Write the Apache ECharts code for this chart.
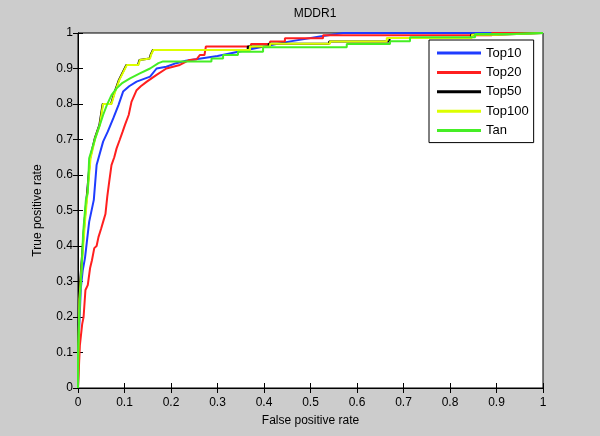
<!DOCTYPE html>
<html>
<head>
<meta charset="utf-8">
<script src="https://cdn.jsdelivr.net/npm/echarts@6/dist/echarts.min.js"></script>
<style>
html,body{margin:0;padding:0;background:#cccccc;}
#c{width:600px;height:436px;}
</style>
</head>
<body>
<div id="c"></div>
<script>
// Data: [false positive rate, true positive rate]
var seriesNames = ['Top10', 'Top20', 'Top50', 'Top100', 'Tan'];
var top10 = [[0,0],[0.002,0.15],[0.006,0.28],[0.01,0.33],[0.015,0.366],[0.024,0.468],[0.034,0.53],[0.040,0.628],[0.054,0.694],[0.064,0.722],[0.076,0.76],[0.087,0.797],[0.097,0.835],[0.11,0.85],[0.126,0.863],[0.155,0.877],[0.169,0.90],[0.19,0.905],[0.211,0.915],[0.232,0.922],[0.30,0.935],[0.363,0.952],[0.45,0.975],[0.52,0.99],[0.556,0.997],[0.57,1],[1,1]];
var top20 = [[0,0],[0.004,0.12],[0.009,0.18],[0.012,0.2],[0.016,0.276],[0.021,0.29],[0.026,0.338],[0.03,0.36],[0.035,0.394],[0.04,0.4],[0.044,0.425],[0.05,0.45],[0.054,0.468],[0.059,0.49],[0.063,0.54],[0.067,0.58],[0.072,0.628],[0.078,0.65],[0.083,0.675],[0.09,0.70],[0.096,0.722],[0.101,0.741],[0.109,0.769],[0.115,0.806],[0.126,0.839],[0.135,0.85],[0.148,0.863],[0.169,0.882],[0.19,0.90],[0.219,0.91],[0.24,0.924],[0.255,0.926],[0.262,0.938],[0.272,0.938],[0.275,0.962],[0.372,0.962],[0.372,0.969],[0.413,0.969],[0.413,0.976],[0.445,0.976],[0.445,0.985],[0.527,0.985],[0.527,0.994],[0.89,0.994],[0.89,1],[1,1]];
var top50 = [[0,0],[0.001,0.15],[0.002,0.25],[0.007,0.342],[0.014,0.468],[0.021,0.572],[0.026,0.647],[0.036,0.703],[0.046,0.741],[0.053,0.80],[0.071,0.80],[0.079,0.835],[0.088,0.868],[0.104,0.91],[0.129,0.91],[0.132,0.924],[0.154,0.928],[0.156,0.938],[0.161,0.952],[0.365,0.952],[0.365,0.962],[0.41,0.962],[0.41,0.97],[0.54,0.97],[0.54,0.976],[0.67,0.976],[0.67,0.986],[0.845,0.986],[0.845,0.995],[0.9,0.995],[0.9,1],[1,1]];
var top100 = [[0,0],[0.001,0.1],[0.003,0.25],[0.008,0.342],[0.015,0.468],[0.022,0.572],[0.027,0.647],[0.037,0.703],[0.047,0.741],[0.054,0.80],[0.072,0.80],[0.08,0.835],[0.089,0.868],[0.105,0.91],[0.13,0.91],[0.133,0.924],[0.155,0.928],[0.157,0.938],[0.162,0.952],[0.37,0.952],[0.37,0.962],[0.413,0.962],[0.413,0.97],[0.542,0.97],[0.542,0.976],[0.664,0.976],[0.664,0.986],[0.847,0.986],[0.847,0.995],[0.9,0.995],[0.9,1],[1,1]];
var tan = [[0,0],[0,0.10],[0.004,0.248],[0.008,0.342],[0.011,0.436],[0.013,0.468],[0.017,0.53],[0.021,0.55],[0.024,0.647],[0.037,0.703],[0.047,0.741],[0.054,0.769],[0.062,0.797],[0.072,0.825],[0.083,0.844],[0.094,0.858],[0.112,0.872],[0.133,0.886],[0.155,0.90],[0.173,0.915],[0.183,0.92],[0.287,0.92],[0.287,0.928],[0.312,0.928],[0.312,0.938],[0.344,0.938],[0.344,0.947],[0.398,0.947],[0.398,0.96],[0.578,0.96],[0.578,0.969],[0.671,0.969],[0.671,0.977],[0.714,0.977],[0.714,0.988],[0.854,0.988],[0.854,0.997],[0.93,0.997],[0.93,1],[1,1]];
var seriesData = [top10, top20, top50, top100, tan];
var seriesColors = ['#1f3cff', '#ff1f1f', '#000000', '#dcff00', '#45ee25'];

var FONT = 'Liberation Sans, Arial, Helvetica, sans-serif';
function fmt(v){ return String(parseFloat(v.toFixed(1))); }

var axisCommon = {
  type: 'value', min: 0, max: 1, interval: 0.1,
  axisLine: {show: true, lineStyle: {color: '#000', width: 1}},
  axisTick: {show: true, inside: true, length: 5, lineStyle: {color: '#000'}},
  splitLine: {show: false}
};

var chart = echarts.init(document.getElementById('c'), null, {renderer: 'canvas'});
chart.setOption({
  animation: false,
  backgroundColor: '#cccccc',
  title: {
    text: 'MDDR1', left: 310, top: 3, textAlign: 'center',
    textStyle: {fontFamily: FONT, fontSize: 12, fontWeight: 'normal', color: '#000'}
  },
  grid: {left: 78, right: 57, top: 33, bottom: 48, show: true, backgroundColor: '#ffffff', borderColor: '#000', borderWidth: 1},
  legend: {
    orient: 'vertical', left: 429, top: 40,
    backgroundColor: '#ffffff', borderColor: '#000', borderWidth: 1,
    padding: [6, 5, 5, 8], itemGap: 5.4,
    itemWidth: 44, itemHeight: 3, icon: 'rect',
    textStyle: {fontFamily: FONT, fontSize: 13, color: '#000', lineHeight: 14},
    data: seriesNames
  },
  xAxis: [
    Object.assign({}, axisCommon, {
      position: 'bottom',
      name: 'False positive rate', nameLocation: 'middle', nameGap: 27,
      nameTextStyle: {fontFamily: FONT, fontSize: 12, color: '#000'},
      axisLabel: {fontFamily: FONT, fontSize: 12, color: '#000', margin: 9, formatter: fmt}
    }),
    Object.assign({}, axisCommon, {position: 'top', axisLabel: {show: false}})
  ],
  yAxis: [
    Object.assign({}, axisCommon, {
      position: 'left',
      name: 'True positive rate', nameLocation: 'middle', nameGap: 34,
      nameTextStyle: {fontFamily: FONT, fontSize: 12, color: '#000'},
      axisLabel: {fontFamily: FONT, fontSize: 12, color: '#000', margin: 5, formatter: fmt}
    }),
    Object.assign({}, axisCommon, {position: 'right', axisLabel: {show: false}})
  ],
  series: seriesNames.map(function(n, i){
    return {
      name: n, type: 'line', data: seriesData[i], showSymbol: false, symbol: 'none',
      clip: false, xAxisIndex: 0, yAxisIndex: 0,
      lineStyle: {color: seriesColors[i], width: 2}, itemStyle: {color: seriesColors[i]},
      z: 2 + i
    };
  })
});
</script>
</body>
</html>
